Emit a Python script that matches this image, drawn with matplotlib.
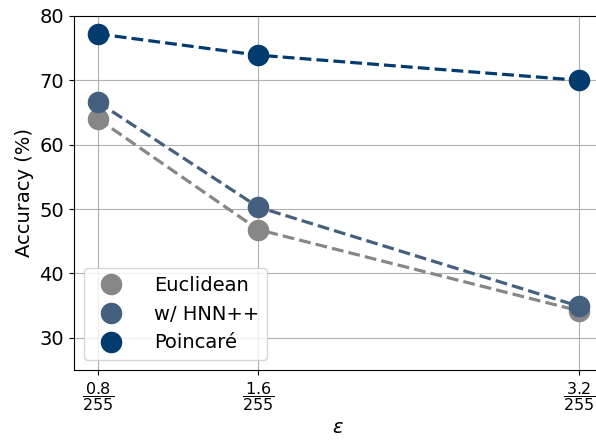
import numpy as np
import matplotlib
matplotlib.use('Agg')
import matplotlib.pyplot as plt

eps = [0.8, 1.6, 3.2]
eps_labels = [r'$\dfrac{0.8}{255}$', r'$\dfrac{1.6}{255}$', r'$\dfrac{3.2}{255}$']
euclidean = [64.0, 46.8, 34.2]
hnn = [66.6, 50.3, 34.9]
poincare = [77.2, 73.9, 70.0]

fig = plt.figure(figsize=(5.96, 4.41), dpi=100)
ax = fig.add_axes([0.124, 0.161, 0.885, 0.803])

series = [('Euclidean', euclidean, '#878787'),
          ('w/ HNN++', hnn, '#44607e'),
          (u'Poincar\u00e9', poincare, '#023b6e')]
for name, vals, col in series:
    ax.plot(eps, vals, '--', color=col, linewidth=2.3)
    ax.plot(eps, vals, 'o', color=col, markersize=14.5, label=name)

ax.set_xlim(0.68, 3.312)
ax.set_ylim(25, 80)
ax.set_xticks(eps)
ax.set_xticklabels(eps_labels, fontsize=11.5)
ax.set_yticks([30, 40, 50, 60, 70, 80])
ax.tick_params(axis='y', labelsize=14)
ax.grid(True, color='#b0b0b0', linewidth=0.8)
ax.set_axisbelow(True)
ax.spines['right'].set_visible(False)  # cropped off in the original
ax.set_xlabel(r'$\varepsilon$', fontsize=14)
ax.set_ylabel('Accuracy (%)', fontsize=14)
ax.legend(loc='lower left', fontsize=14, borderaxespad=0.5, handletextpad=1.2)

fig.savefig('out.png', dpi=100)
